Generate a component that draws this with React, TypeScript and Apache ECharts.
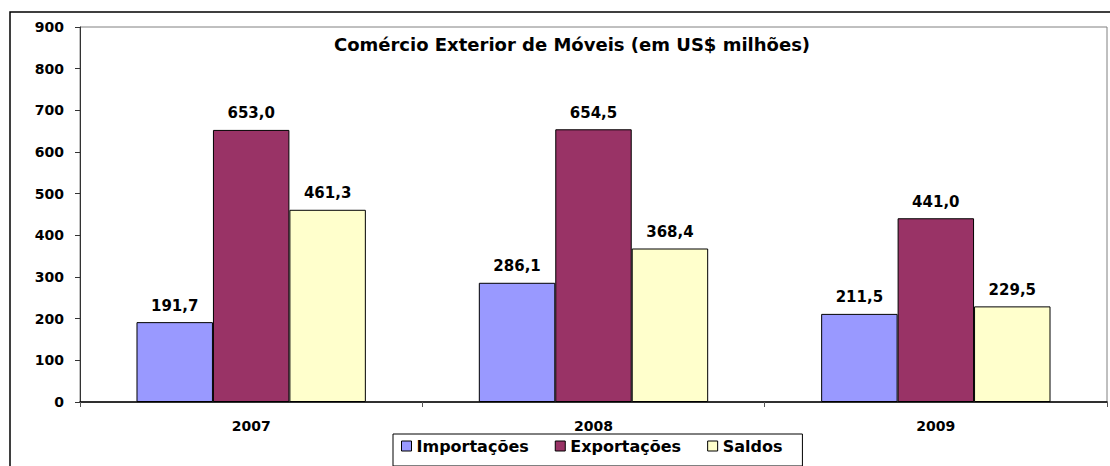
import React, { useEffect, useRef } from "react";
import * as echarts from "echarts";

const categories = ["2007", "2008", "2009"];
const importacoes = [191.7, 286.1, 211.5];
const exportacoes = [653.0, 654.5, 441.0];
const saldos = [461.3, 368.4, 229.5];
const seriesNames = ["Importações", "Exportações", "Saldos"];
const titleText = "Comércio Exterior de Móveis (em US$ milhões)";

const FONT = "DejaVu Sans";

export default function App() {
  const ref = useRef<HTMLDivElement>(null);
  useEffect(() => {
    if (!ref.current) return;
    const chart = echarts.init(ref.current, undefined, { renderer: "svg" });
    const mkSeries = (name: string, data: number[], color: string) => ({
      name,
      type: "bar",
      data,
      barGap: "0%",
      barCategoryGap: "33%",
      itemStyle: { color, borderColor: "#000", borderWidth: 1 },
      label: {
        show: true,
        position: "top",
        distance: 9,
        formatter: (p: any) => Number(p.value).toFixed(1).replace(".", ","),
        fontFamily: FONT,
        fontWeight: "bold",
        fontSize: 15,
        color: "#000",
      },
    });
    chart.setOption({
      animation: false,
      backgroundColor: "#fff",
      grid: {
        left: 80,
        right: 3,
        top: 27,
        bottom: 64,
        show: true,
        borderColor: "#808080",
        borderWidth: 1,
      },
      graphic: [
        {
          type: "rect",
          z: -10,
          shape: { x: 10, y: 12, width: 1300, height: 1000 },
          style: { fill: "none", stroke: "#000", lineWidth: 1.5 },
          silent: true,
        },
        {
          type: "text",
          x: 572,
          y: 44,
          style: {
            text: titleText,
            fontFamily: FONT,
            fontWeight: "bold",
            fontSize: 18,
            fill: "#000",
            align: "center",
            verticalAlign: "middle",
          },
        },
      ],
      legend: {
        data: seriesNames,
        left: 393,
        top: 434,
        padding: [4, 20, 12, 8],
        borderColor: "#000",
        borderWidth: 1,
        itemWidth: 10,
        itemHeight: 10,
        itemGap: 26,
        icon: "rect",
        itemStyle: { borderColor: "#000", borderWidth: 1 },
        textStyle: {
          fontFamily: FONT,
          fontWeight: "bold",
          fontSize: 16,
          color: "#000",
        },
      },
      xAxis: {
        type: "category",
        data: categories,
        boundaryGap: true,
        axisLine: { show: true, lineStyle: { color: "#000", width: 1.5 } },
        axisTick: { show: true, alignWithLabel: false, length: 5, inside: false, lineStyle: { color: "#555" } },
        axisLabel: {
          margin: 17,
          fontFamily: FONT,
          fontWeight: "bold",
          fontSize: 14,
          color: "#000",
        },
      },
      yAxis: {
        type: "value",
        min: 0,
        max: 900,
        interval: 100,
        axisLine: { show: true, lineStyle: { color: "#333", width: 1 } },
        axisTick: { show: true, length: 5, lineStyle: { color: "#333" } },
        splitLine: { show: false },
        axisLabel: {
          margin: 16,
          fontFamily: FONT,
          fontWeight: "bold",
          fontSize: 14,
          color: "#000",
        },
      },
      series: [
        mkSeries(seriesNames[0], importacoes, "#9999FF"),
        mkSeries(seriesNames[1], exportacoes, "#993366"),
        mkSeries(seriesNames[2], saldos, "#FFFFCC"),
      ],
    });
    return () => chart.dispose();
  }, []);
  return (
    <div
      ref={ref}
      style={{ position: "fixed", left: 0, top: 0, width: 1110, height: 466 }}
    />
  );
}
